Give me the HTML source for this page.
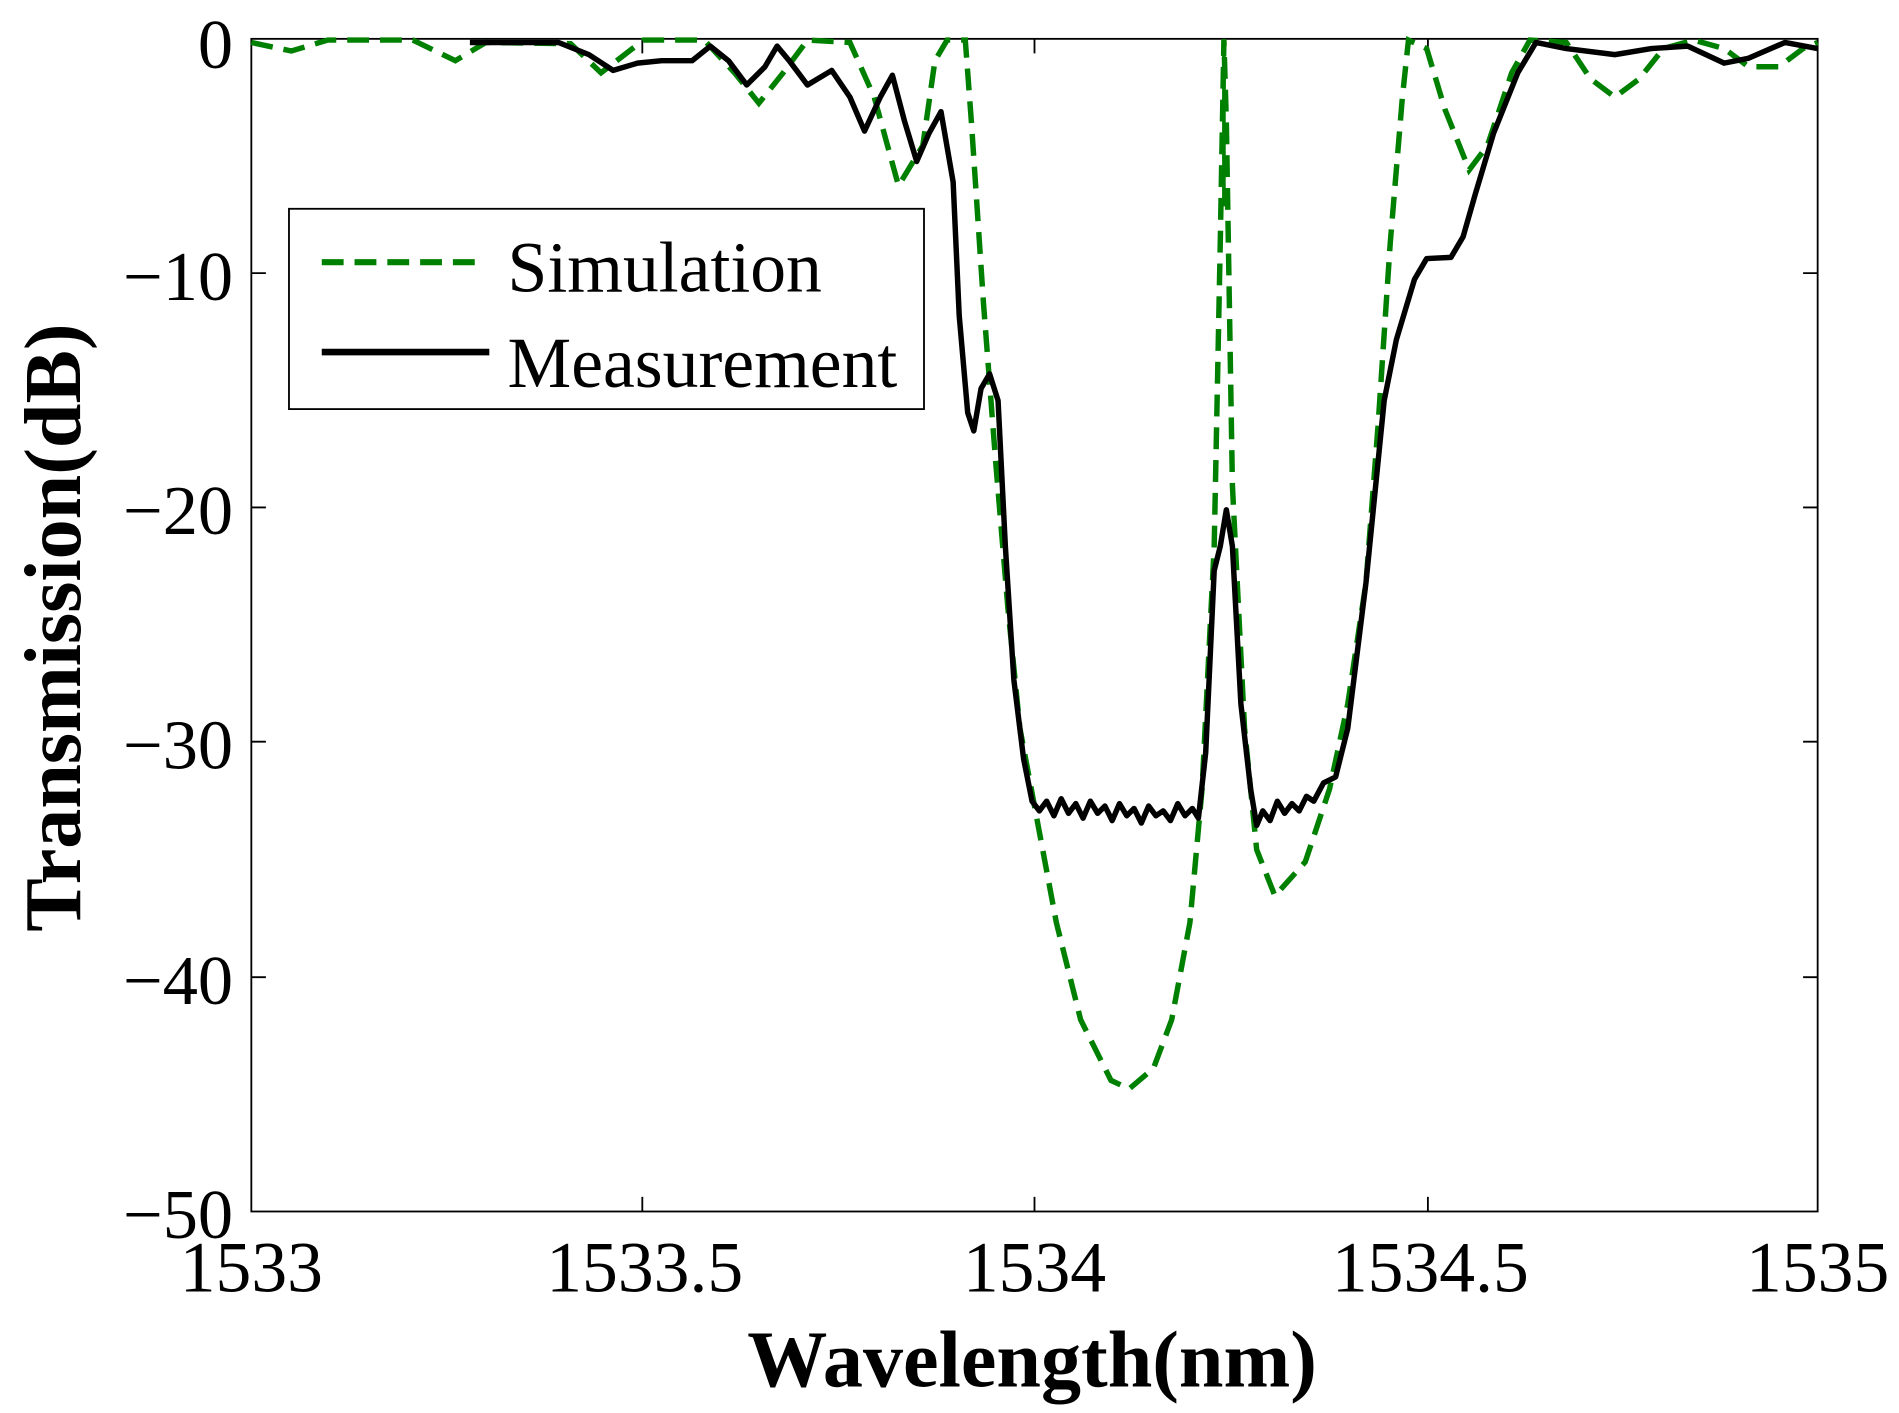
<!DOCTYPE html>
<html><head><style>html,body{margin:0;padding:0;background:#fff}svg{display:block}</style></head>
<body>
<svg width="1899" height="1413" viewBox="0 0 1564 1164" preserveAspectRatio="none" xmlns="http://www.w3.org/2000/svg" font-family="Liberation Serif, serif">
<rect width="1564" height="1164" fill="#fff"/>
<g stroke="#000" stroke-width="1.5" fill="none">
<rect x="207" y="32" width="1290" height="966"/>
<path d="M529 998v-12M852 998v-12M1176 998v-12M529 32v12M852 32v12M1176 32v12
M207 225h12M207 418h12M207 611h12M207 805h12M1497 225h-12M1497 418h-12M1497 611h-12M1497 805h-12"/>
</g>
<g font-size="58" fill="#000" text-anchor="end">
<text x="192" y="56">0</text>
<text x="192" y="247">−10</text>
<text x="192" y="440">−20</text>
<text x="192" y="633">−30</text>
<text x="192" y="827">−40</text>
<text x="192" y="1020">−50</text>
</g>
<g font-size="59" fill="#000" text-anchor="middle">
<text x="207" y="1064">1533</text>
<text x="531" y="1064">1533.5</text>
<text x="852" y="1064">1534</text>
<text x="1178" y="1064">1534.5</text>
<text x="1497" y="1064">1535</text>
</g>
<text x="850" y="1142" font-size="66" font-weight="bold" text-anchor="middle">Wavelength(nm)</text>
<text transform="translate(66,517) rotate(-90)" font-size="66" font-weight="bold" text-anchor="middle">Transmission(dB)</text>
<path d="M1008 32V170" stroke="#008000" stroke-width="3"/>
<path fill="none" stroke="#008000" stroke-width="4.5" stroke-dasharray="18,9" d="M207 35 L240 42 L270 33 L340 33 L375 50 L400 35 L470 36 L495 60 L530 33 L580 33 L605 60 L625 85 L645 60 L665 33 L700 35 L720 80 L740 153 L760 120 L770 50 L780 33 L795 33 L800 100 L810 250 L820 380 L830 500 L840 600 L855 680 L870 760 L890 840 L915 890 L930 897 L950 880 L965 840 L980 760 L990 650 L1000 450 L1005 200 L1008 33 L1010 100 L1015 400 L1025 600 L1035 700 L1050 738 L1075 710 L1095 650 L1110 580 L1125 480 L1135 350 L1145 200 L1155 80 L1160 33 L1175 40 L1190 90 L1210 140 L1225 120 L1245 60 L1260 33 L1290 35 L1310 65 L1330 80 L1350 65 L1370 40 L1395 33 L1420 40 L1440 55 L1465 55 L1485 40 L1497 35"/>
<path fill="none" stroke="#000" stroke-width="4.5" stroke-linejoin="round" d="M387 35 L460 35 L485 45 L505 58 L525 52 L545 50 L570 50 L585 38 L600 50 L615 70 L630 55 L640 38 L650 50 L665 70 L685 58 L700 80 L712 108 L725 80 L735 62 L745 100 L755 133 L765 110 L775 92 L785 150 L790 260 L797 340 L802 355 L808 320 L815 308 L822 330 L828 450 L835 560 L843 625 L850 660 L856 668 L862 660 L868 672 L874 658 L880 670 L886 662 L892 674 L898 660 L904 670 L910 664 L916 676 L922 662 L928 672 L934 666 L940 678 L946 664 L952 672 L958 668 L964 676 L970 662 L976 672 L982 666 L987 674 L993 620 L1000 470 L1005 450 L1010 420 L1015 450 L1022 580 L1030 650 L1035 680 L1040 668 L1046 676 L1052 660 L1058 670 L1064 662 L1070 668 L1076 656 L1082 660 L1090 645 L1100 640 L1110 600 L1125 480 L1140 330 L1150 280 L1165 230 L1175 213 L1195 212 L1205 195 L1215 160 L1230 110 L1250 60 L1265 35 L1290 40 L1330 45 L1360 40 L1390 38 L1420 52 L1440 48 L1470 35 L1497 40"/>
<rect x="238" y="172" width="523" height="165" fill="#fff" stroke="#000" stroke-width="1.5"/>
<path d="M265 216H400" stroke="#008000" stroke-width="5" stroke-dasharray="18,9"/>
<path d="M265 290H403" stroke="#000" stroke-width="5.5"/>
<text x="418" y="240" font-size="59">Simulation</text>
<text x="418" y="319" font-size="59">Measurement</text>
</svg>
</body></html>
